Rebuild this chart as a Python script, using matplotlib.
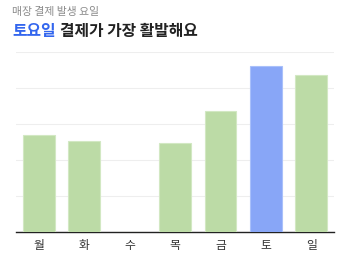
import matplotlib
matplotlib.use("Agg")
import matplotlib.pyplot as plt

plt.rcParams['font.family'] = ['Noto Sans CJK KR', 'DejaVu Sans']

days = ['월', '화', '수', '목', '금', '토', '일']
values = [54, 51, 0, 49.6, 67.6, 92.4, 87.4]
highlight = '토'

W, H = 341, 256
fig = plt.figure(figsize=(W/100, H/100), dpi=100)
ax = fig.add_axes([16/W, 1-232.3/H, 318/W, (232.3-52.3)/H])

green = '#bcdba6'
blue = '#88a6f7'
colors = [blue if d == highlight else green for d in days]
edges = ['#a9c0fa' if d == highlight else '#d2e8c3' for d in days]
ax.bar(range(len(days)), values, width=0.7, color=colors, edgecolor=edges, linewidth=0.8, zorder=3)

ax.set_xlim(-0.5, 6.5)
ax.set_ylim(0, 100)
ax.set_yticks([0, 20, 40, 60, 80, 100])
ax.yaxis.grid(True, color='#eeeeee', linewidth=0.8, zorder=0)
ax.tick_params(axis='y', left=False, labelleft=False)
ax.set_xticks(range(len(days)))
ax.set_xticklabels(days, fontsize=8.5, color='#333333')
ax.tick_params(axis='x', length=0, pad=5)
for s in ['top', 'right', 'left']:
    ax.spines[s].set_visible(False)
ax.spines['bottom'].set_color('#222222')
ax.spines['bottom'].set_linewidth(1)

fig.text(12/W, 1-12/H, '매장 결제 발생 요일', fontsize=7.8, color='#8a8a8a', va='center', ha='left')
t1 = fig.text(12/W, 1-31/H, '토요일', fontsize=11.4, color='#3366ee', fontweight='bold', va='center', ha='left')
fig.canvas.draw()
bb = t1.get_window_extent()
fig.text((bb.x1 + 4)/W, 1-31/H, '결제가 가장 활발해요', fontsize=11.4, color='#222222', fontweight='bold', va='center', ha='left')

fig.savefig('out.png', dpi=100)
